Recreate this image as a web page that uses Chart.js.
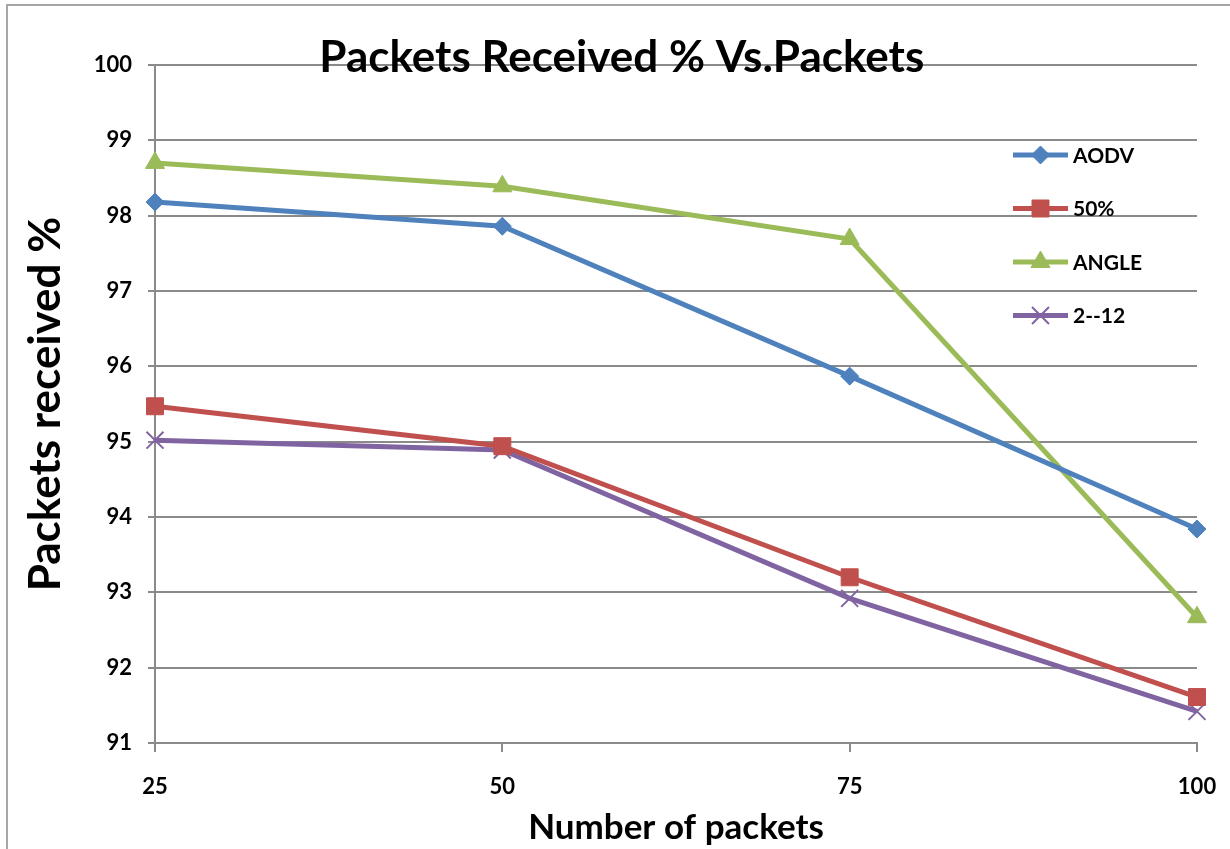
<!DOCTYPE html>
<html lang="en">
<head>
<meta charset="utf-8">
<title>Packets Received % Vs.Packets</title>
<script src="https://cdn.jsdelivr.net/npm/chart.js"></script>
<style>
  html, body { margin: 0; padding: 0; background: #fff; }
  #wrap { width: 1230px; height: 849px; }
</style>
</head>
<body>
<div id="wrap"><canvas id="myLineChart"></canvas></div>
<script>
// chart data
const packets = ['25', '50', '75', '100'];
const aodv = [98.18, 97.86, 95.87, 93.84];
const fifty = [95.47, 94.94, 93.20, 91.61];
const angle = [98.70, 98.39, 97.69, 92.67];
const twoTwelve = [95.02, 94.89, 92.92, 91.42];
const seriesNames = ['AODV', '50%', 'ANGLE', '2--12'];
const yTicks = [91, 92, 93, 94, 95, 96, 97, 98, 99, 100];

const FONT = "Lato, 'Open Sans', sans-serif";
const GRID = '#8a8a8a';

function makeSet(label, data, color, style, radius, bw) {
    return {
        label: label,
        data: data,
        borderColor: color,
        backgroundColor: color,
        borderWidth: 5,
        pointStyle: style,
        pointRadius: radius,
        pointHoverRadius: radius,
        pointBorderWidth: bw,
        pointBackgroundColor: color,
        pointBorderColor: color,
        tension: 0,
        clip: false
    };
}

// frame around the picture, title drawn over the plot, legend inside the plot
const decor = {
    id: 'decor',
    beforeDraw(chart) {
        const c = chart.ctx;
        c.save();
        c.strokeStyle = '#a6a6a6';
        c.lineWidth = 2;
        c.strokeRect(7, 5, 1400, 1000);
        c.restore();
    },
    afterDraw(chart) {
        const c = chart.ctx;
        const a = chart.chartArea;
        c.save();
        c.fillStyle = '#000';
        c.font = "bold 44px " + FONT;
        c.textAlign = 'center';
        c.textBaseline = 'middle';
        c.fillText('Packets Received % Vs.Packets', a.left + (a.right - a.left) * 0.448, 58);

        // legend
        const lx = 1013, lw = 55, ty = 155, gap = 53.5;
        chart.data.datasets.forEach((ds, i) => {
            const y = ty + i * gap;
            c.strokeStyle = ds.borderColor;
            c.fillStyle = ds.backgroundColor;
            c.lineWidth = 5;
            c.beginPath();
            c.moveTo(lx, y);
            c.lineTo(lx + lw, y);
            c.stroke();
            c.lineWidth = ds.pointBorderWidth;
            Chart.helpers.drawPoint(c, {
                pointStyle: ds.pointStyle,
                radius: ds.pointRadius,
                rotation: 0,
                borderWidth: ds.pointBorderWidth
            }, lx + lw / 2, y);
            c.fillStyle = '#000';
            c.font = "bold 21px " + FONT;
            c.textAlign = 'left';
            c.textBaseline = 'middle';
            c.fillText(ds.label, lx + lw + 5, y + 1);
        });
        c.restore();
    }
};

const ctx = document.getElementById('myLineChart').getContext('2d');
const myLineChart = new Chart(ctx, {
    type: 'line',
    data: {
        labels: packets,
        datasets: [
            makeSet(seriesNames[0], aodv, '#4F81BD', 'rectRot', 9, 1),
            makeSet(seriesNames[1], fifty, '#C0504D', 'rect', 12, 1),
            makeSet(seriesNames[2], angle, '#9BBB59', 'triangle', 11, 1),
            makeSet(seriesNames[3], twoTwelve, '#8064A2', 'crossRot', 12, 2)
        ]
    },
    options: {
        responsive: true,
        maintainAspectRatio: false,
        animation: false,
        layout: { padding: { left: 0, right: 33, top: 65, bottom: 0 } },
        plugins: {
            legend: { display: false },
            tooltip: { enabled: false },
            title: { display: false }
        },
        scales: {
            x: {
                type: 'category',
                offset: false,
                grid: {
                    drawOnChartArea: false,
                    drawTicks: true,
                    tickLength: 9,
                    color: GRID,
                    lineWidth: 2
                },
                border: { color: GRID, width: 2 },
                ticks: {
                    color: '#000',
                    font: { family: FONT, size: 22, weight: 'bold' },
                    padding: 22,
                    maxRotation: 0
                },
                title: {
                    display: true,
                    text: 'Number of packets',
                    color: '#000',
                    font: { family: FONT, size: 35, weight: 'bold' },
                    padding: { top: 0, bottom: 0 }
                },
                afterFit(scale) {
                    scale.height = 106;
                    scale.paddingLeft = 0;
                    scale.paddingRight = 0;
                }
            },
            y: {
                min: 91,
                max: 100,
                afterBuildTicks(scale) { scale.ticks = yTicks.map(v => ({ value: v })); },
                grid: {
                    color: GRID,
                    lineWidth: 2,
                    tickLength: 7
                },
                border: { color: GRID, width: 2 },
                ticks: {
                    color: '#000',
                    font: { family: FONT, size: 22, weight: 'bold' },
                    padding: 16
                },
                title: {
                    display: true,
                    text: 'Packets received %',
                    color: '#000',
                    font: { family: FONT, size: 44, weight: 'bold' },
                    padding: { top: 19, bottom: 0 }
                },
                afterFit(scale) { scale.width = 155; }
            }
        }
    },
    plugins: [decor]
});
</script>
</body>
</html>
